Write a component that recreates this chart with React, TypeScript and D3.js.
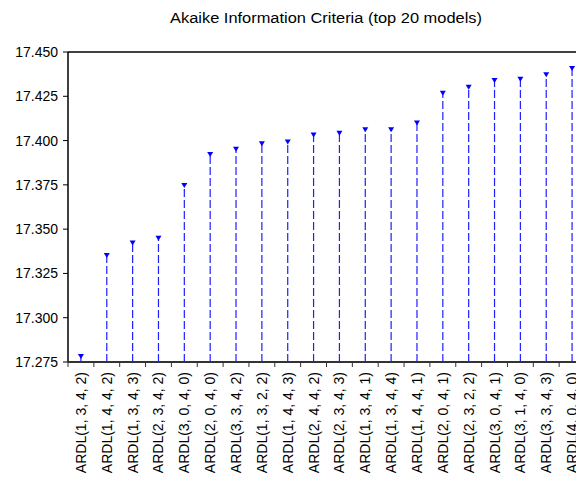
import * as d3 from "d3";
import { useEffect, useRef } from "react";

const models = [
  "ARDL(1, 3, 4, 2)", "ARDL(1, 4, 4, 2)", "ARDL(1, 3, 4, 3)", "ARDL(2, 3, 4, 2)",
  "ARDL(3, 0, 4, 0)", "ARDL(2, 0, 4, 0)", "ARDL(3, 3, 4, 2)", "ARDL(1, 3, 2, 2)",
  "ARDL(1, 4, 4, 3)", "ARDL(2, 4, 4, 2)", "ARDL(2, 3, 4, 3)", "ARDL(1, 3, 4, 1)",
  "ARDL(1, 3, 4, 4)", "ARDL(1, 4, 4, 1)", "ARDL(2, 0, 4, 1)", "ARDL(2, 3, 2, 2)",
  "ARDL(3, 0, 4, 1)", "ARDL(3, 1, 4, 0)", "ARDL(3, 3, 4, 3)", "ARDL(4, 0, 4, 0)",
];
const aic = [
  17.279, 17.336, 17.343, 17.3457, 17.3755, 17.393, 17.396, 17.399, 17.4,
  17.404, 17.405, 17.407, 17.407, 17.4108, 17.4275, 17.431, 17.4348, 17.4355,
  17.438, 17.4415,
];
const yTicks = [17.275, 17.3, 17.325, 17.35, 17.375, 17.4, 17.425, 17.45];

export default function App() {
  const ref = useRef<SVGSVGElement>(null);

  useEffect(() => {
    const svg = d3.select(ref.current);
    svg.selectAll("*").remove();

    const margin = { top: 52, left: 68 };
    const width = 517;
    const height = 310;
    const font = "Liberation Sans, Arial, sans-serif";

    const x = d3.scaleBand().domain(models).range([0, width]);
    const y = d3.scaleLinear().domain([17.275, 17.45]).range([height, 0]);

    svg
      .append("text")
      .attr("x", 326)
      .attr("y", 23)
      .attr("text-anchor", "middle")
      .attr("font-family", font)
      .attr("font-size", 14)
      .attr("textLength", 312)
      .attr("lengthAdjust", "spacingAndGlyphs")
      .text("Akaike Information Criteria (top 20 models)");

    const g = svg
      .append("g")
      .attr("transform", "translate(" + margin.left + "," + margin.top + ")");

    // stems
    g.selectAll("line.stem")
      .data(aic)
      .enter()
      .append("line")
      .attr("class", "stem")
      .attr("x1", (d, i) => x(models[i])! + x.bandwidth() / 2)
      .attr("x2", (d, i) => x(models[i])! + x.bandwidth() / 2)
      .attr("y1", height)
      .attr("y2", (d) => y(d))
      .attr("stroke", "#1f1fff")
      .attr("stroke-width", 1.2)
      .attr("stroke-dasharray", "8,3");

    // markers
    g.selectAll("path.mark")
      .data(aic)
      .enter()
      .append("path")
      .attr("class", "mark")
      .attr("d", "M-3,0L3,0L0,5Z")
      .attr("fill", "#0000ff")
      .attr("transform", (d, i) => "translate(" + (x(models[i])! + x.bandwidth() / 2) + "," + (y(d) - 1) + ")");

    // frame
    g.append("line").attr("x1", 0).attr("x2", width).attr("y1", 0).attr("y2", 0)
      .attr("stroke", "#000").attr("stroke-width", 1.5);
    g.append("line").attr("x1", 0).attr("x2", 0).attr("y1", 0).attr("y2", height)
      .attr("stroke", "#000").attr("stroke-width", 1.5);
    g.append("line").attr("x1", 0).attr("x2", width).attr("y1", height).attr("y2", height)
      .attr("stroke", "#333").attr("stroke-width", 2);

    // y axis
    g.selectAll("line.ytick")
      .data(yTicks)
      .enter()
      .append("line")
      .attr("x1", -5).attr("x2", 0)
      .attr("y1", (d) => y(d)).attr("y2", (d) => y(d))
      .attr("stroke", "#000");
    g.selectAll("text.ylab")
      .data(yTicks)
      .enter()
      .append("text")
      .attr("x", -10)
      .attr("y", (d) => y(d) + 5)
      .attr("text-anchor", "end")
      .attr("font-family", font)
      .attr("font-size", 14)
      .text((d) => d3.format(".3f")(d));

    // x axis ticks at category boundaries
    g.selectAll("line.xtick")
      .data(d3.range(models.length + 1))
      .enter()
      .append("line")
      .attr("x1", (i) => i * x.step()).attr("x2", (i) => i * x.step())
      .attr("y1", height).attr("y2", height + 5)
      .attr("stroke", "#333");
    g.selectAll("text.xlab")
      .data(models)
      .enter()
      .append("text")
      .attr("transform", (d) => "translate(" + (x(d)! + x.bandwidth() / 2 + 5) + "," + (height + 10) + ") rotate(-90)")
      .attr("text-anchor", "end")
      .attr("font-family", font)
      .attr("font-size", 14)
      .text((d) => d);
  }, []);

  return (
    <svg
      ref={ref}
      width={576}
      height={479}
      style={{ position: "absolute", left: 0, top: 0, background: "#fff" }}
    />
  );
}
